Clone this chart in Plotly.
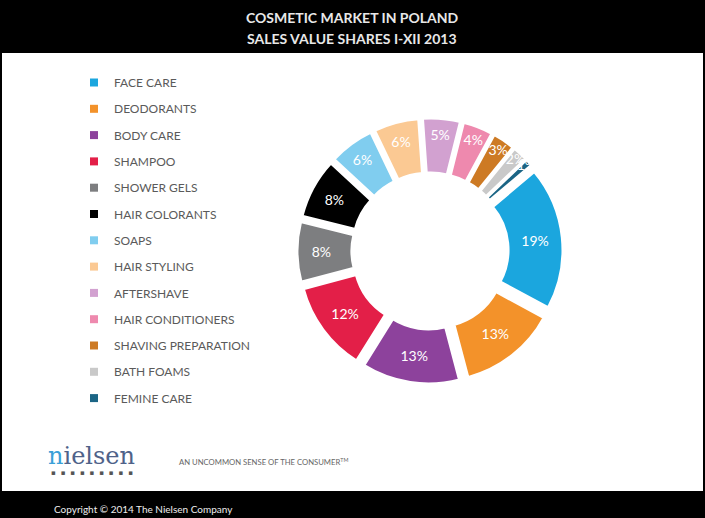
import plotly.graph_objects as go

categories = ["FACE CARE", "DEODORANTS", "BODY CARE", "SHAMPOO", "SHOWER GELS",
              "HAIR COLORANTS", "SOAPS", "HAIR STYLING", "AFTERSHAVE",
              "HAIR CONDITIONERS", "SHAVING PREPARATION", "BATH FOAMS", "FEMINE CARE"]
shares = [19, 13, 13, 12, 8, 8, 6, 6, 5, 4, 3, 2, 1]
colors = ["#1ba6de", "#f3922a", "#8d429c", "#e31f48", "#7d7e80", "#000000",
          "#80cdef", "#fbc993", "#d2a1d0", "#ee89ae", "#cd7a24", "#c9c9c9", "#1b6585"]

W, H = 705, 518
FONT = "Lato"

fig = go.Figure()

# Donut
cx, cy, R = 430, 251, 133
fig.add_trace(go.Pie(
    labels=categories, values=shares, sort=False, direction="clockwise",
    rotation=50, hole=0.55, pull=0.09,
    marker=dict(colors=colors, line=dict(color="white", width=3)),
    texttemplate="%{value}%", textposition="inside",
    insidetextorientation="horizontal",
    textfont=dict(color="white", size=14, family=FONT),
    showlegend=False, hoverinfo="label+value",
    domain=dict(x=[(cx - R) / W, (cx + R) / W], y=[(H - cy - R) / H, (H - cy + R) / H]),
))

# Legend entries (one group each so spacing can be controlled)
for lab, col in zip(categories, colors):
    fig.add_trace(go.Scatter(
        x=[None], y=[None], mode="markers", name=lab, legendgroup=lab,
        marker=dict(symbol="square", size=8, color=col),
        showlegend=True,
    ))

def note(text, x, y, size, color, family=FONT, anchor="left"):
    return dict(text=text, x=x / W, y=1 - y / H, xref="paper", yref="paper",
                showarrow=False, xanchor=anchor, yanchor="middle",
                font=dict(family=family, size=size, color=color))

fig.update_layout(
    width=W, height=H,
    margin=dict(l=0, r=0, t=0, b=0),
    paper_bgcolor="#000000", plot_bgcolor="rgba(0,0,0,0)",
    xaxis=dict(visible=False, domain=[0, 0.01]),
    yaxis=dict(visible=False, domain=[0, 0.01]),
    uniformtext=dict(minsize=14, mode="show"),
    legend=dict(
        x=74 / W, y=1 - 68 / H, xanchor="left", yanchor="top",
        bgcolor="rgba(0,0,0,0)", tracegroupgap=7.3,
        font=dict(family=FONT, size=12, color="#5a5a5a"),
        itemclick=False,
    ),
    shapes=[
        dict(type="rect", xref="paper", yref="paper",
             x0=2 / W, x1=703 / W, y0=(H - 491) / H, y1=(H - 53) / H,
             fillcolor="white", line=dict(width=0), layer="below"),
    ],
    annotations=[
        note("<b>COSMETIC MARKET IN POLAND</b>", 352, 17, 14, "#e8e8e8", anchor="center"),
        note("<b>SALES VALUE SHARES I-XII 2013</b>", 352, 39, 14, "#e8e8e8", anchor="center"),
        note("<span style='color:#3aa0d8'>n</span>ielsen", 46, 456, 24, "#4f6289",
             family="DejaVu Serif"),
        note("\u2002\u2009".join(["\u25aa"] * 9), 49, 473, 7, "#555555", family="DejaVu Sans"),
        note("AN UNCOMMON SENSE OF THE CONSUMER<sup>TM</sup>", 177, 462, 7.7, "#666666"),
        note("Copyright \u00a9 2014 The Nielsen Company", 52, 509, 10, "#eeeeee"),
    ],
)

fig.write_html("out.html", config={"displayModeBar": False},
               post_script="document.body.style.margin='0';")
